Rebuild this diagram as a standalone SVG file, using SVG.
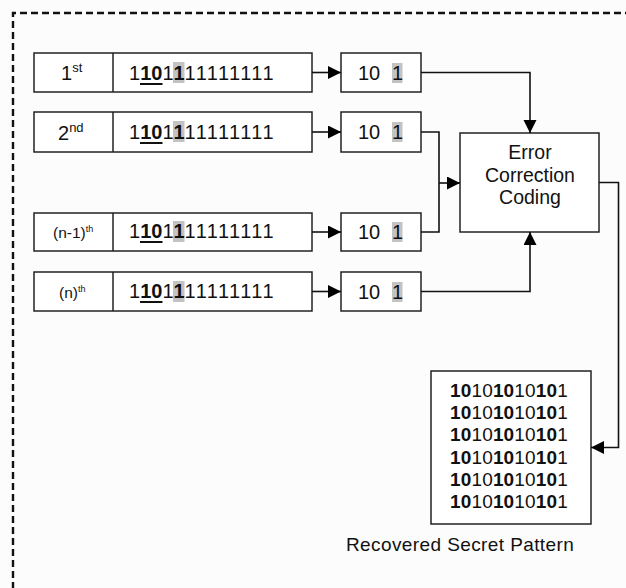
<svg xmlns="http://www.w3.org/2000/svg" width="626" height="588" viewBox="0 0 626 588">
  <style>
    .box { fill: #ffffff; stroke: #222; stroke-width: 1.5; }
    .wire { fill: none; stroke: #111; stroke-width: 1.6; }
    .t { font-family: "Liberation Sans", Arial, sans-serif; fill: #111; }
    .bits { font-size: 20px; }
    .tail { letter-spacing: 1.5px; }
    .hl { fill: #c3c3c3; }
    .pat { font-size: 19px; letter-spacing: 0.15px; }
  </style>
  <defs>
    <marker id="arrow" markerUnits="userSpaceOnUse" markerWidth="14" markerHeight="14" refX="13" refY="6.5" orient="auto">
      <path d="M0,0 L13,6.5 L0,13 z" fill="#000"/>
    </marker>
  </defs>

  <rect width="626" height="588" fill="#fcfcfc"/>
  <!-- dashed frame running off the right and bottom edges -->
  <path d="M13,600 L13,13 L640,13" fill="none" stroke="#111" stroke-width="2.4" stroke-dasharray="7,4"/>

  <!-- share rows -->
  <g id="row1">
    <rect class="box" x="34" y="53" width="278" height="39"/>
    <line x1="113" y1="53" x2="113" y2="92" stroke="#222" stroke-width="1.5"/>
    <text class="t" x="61" y="80" font-size="20">1<tspan font-size="13" dy="-8">st</tspan></text>
    <rect class="hl" x="173" y="62" width="11.5" height="21"/>
    <line x1="140" y1="84" x2="162.5" y2="84" stroke="#111" stroke-width="2"/>
    <text class="t bits" x="129" y="80">1<tspan font-weight="bold">10</tspan>1<tspan font-weight="bold">1</tspan><tspan class="tail" x="184.5">11111111</tspan></text>
  </g>
  <g id="row2">
    <rect class="box" x="34" y="112" width="278" height="40"/>
    <line x1="113" y1="112" x2="113" y2="152" stroke="#222" stroke-width="1.5"/>
    <text class="t" x="58" y="140" font-size="20">2<tspan font-size="13" dy="-8">nd</tspan></text>
    <rect class="hl" x="173" y="121" width="11.5" height="21"/>
    <line x1="140" y1="143" x2="162.5" y2="143" stroke="#111" stroke-width="2"/>
    <text class="t bits" x="129" y="139">1<tspan font-weight="bold">10</tspan>1<tspan font-weight="bold">1</tspan><tspan class="tail" x="184.5">11111111</tspan></text>
  </g>
  <g id="row3">
    <rect class="box" x="34" y="213" width="278" height="38"/>
    <line x1="113" y1="213" x2="113" y2="251" stroke="#222" stroke-width="1.5"/>
    <text class="t" x="53" y="238" font-size="15.5">(n-1)<tspan font-size="9" dy="-6">th</tspan></text>
    <rect class="hl" x="173" y="221" width="11.5" height="21"/>
    <line x1="140" y1="242" x2="162.5" y2="242" stroke="#111" stroke-width="2"/>
    <text class="t bits" x="129" y="238">1<tspan font-weight="bold">10</tspan>1<tspan font-weight="bold">1</tspan><tspan class="tail" x="184.5">11111111</tspan></text>
  </g>
  <g id="row4">
    <rect class="box" x="34" y="272" width="278" height="39"/>
    <line x1="113" y1="272" x2="113" y2="311" stroke="#222" stroke-width="1.5"/>
    <text class="t" x="59" y="298" font-size="15.5">(n)<tspan font-size="9" dy="-6">th</tspan></text>
    <rect class="hl" x="173" y="281" width="11.5" height="21"/>
    <line x1="140" y1="302" x2="162.5" y2="302" stroke="#111" stroke-width="2"/>
    <text class="t bits" x="129" y="298">1<tspan font-weight="bold">10</tspan>1<tspan font-weight="bold">1</tspan><tspan class="tail" x="184.5">11111111</tspan></text>
  </g>

  <!-- extracted bit boxes -->
  <g id="bits1">
    <rect class="box" x="341" y="53" width="80" height="39"/>
    <rect class="hl" x="392" y="63" width="10.5" height="20"/>
    <text class="t bits" x="358" y="80">10<tspan x="392">1</tspan></text>
  </g>
  <g id="bits2">
    <rect class="box" x="341" y="112" width="80" height="40"/>
    <rect class="hl" x="392" y="122" width="10.5" height="20"/>
    <text class="t bits" x="358" y="139">10<tspan x="392">1</tspan></text>
  </g>
  <g id="bits3">
    <rect class="box" x="341" y="213" width="80" height="38"/>
    <rect class="hl" x="392" y="222" width="10.5" height="20"/>
    <text class="t bits" x="358" y="239">10<tspan x="392">1</tspan></text>
  </g>
  <g id="bits4">
    <rect class="box" x="341" y="272" width="80" height="39"/>
    <rect class="hl" x="392" y="282" width="10.5" height="20"/>
    <text class="t bits" x="358" y="299">10<tspan x="392">1</tspan></text>
  </g>

  <!-- decoder -->
  <g id="ecc">
    <rect class="box" x="460" y="133" width="139" height="99"/>
    <text class="t" x="530" y="159" font-size="19.5" text-anchor="middle">Error</text>
    <text class="t" x="530" y="182" font-size="19.5" text-anchor="middle">Correction</text>
    <text class="t" x="530" y="204" font-size="19.5" text-anchor="middle">Coding</text>
  </g>

  <!-- recovered pattern -->
  <g id="recovered">
    <rect class="box" x="431" y="371" width="160" height="153"/>
    <g class="t pat">
      <text x="450" y="397"><tspan font-weight="bold">10</tspan>10<tspan font-weight="bold">10</tspan>10<tspan font-weight="bold">10</tspan>1</text>
      <text x="450" y="419"><tspan font-weight="bold">10</tspan>10<tspan font-weight="bold">10</tspan>10<tspan font-weight="bold">10</tspan>1</text>
      <text x="450" y="441"><tspan font-weight="bold">10</tspan>10<tspan font-weight="bold">10</tspan>10<tspan font-weight="bold">10</tspan>1</text>
      <text x="450" y="464"><tspan font-weight="bold">10</tspan>10<tspan font-weight="bold">10</tspan>10<tspan font-weight="bold">10</tspan>1</text>
      <text x="450" y="486"><tspan font-weight="bold">10</tspan>10<tspan font-weight="bold">10</tspan>10<tspan font-weight="bold">10</tspan>1</text>
      <text x="450" y="508"><tspan font-weight="bold">10</tspan>10<tspan font-weight="bold">10</tspan>10<tspan font-weight="bold">10</tspan>1</text>
    </g>
    <text class="t" x="346" y="551" font-size="19" letter-spacing="0.4">Recovered Secret Pattern</text>
  </g>

  <!-- connectors -->
  <g id="connectors">
    <line class="wire" x1="312" y1="72.5" x2="341" y2="72.5" marker-end="url(#arrow)"/>
    <line class="wire" x1="312" y1="132" x2="341" y2="132" marker-end="url(#arrow)"/>
    <line class="wire" x1="312" y1="232" x2="341" y2="232" marker-end="url(#arrow)"/>
    <line class="wire" x1="312" y1="291.5" x2="341" y2="291.5" marker-end="url(#arrow)"/>
    <polyline class="wire" points="421,72.5 530,72.5 530,133" marker-end="url(#arrow)"/>
    <polyline class="wire" points="421,132 439,132 439,232 421,232"/>
    <line class="wire" x1="439" y1="183" x2="460" y2="183" marker-end="url(#arrow)"/>
    <polyline class="wire" points="421,291.5 530,291.5 530,232" marker-end="url(#arrow)"/>
    <polyline class="wire" points="599,182.5 618.5,182.5 618.5,447.5 591,447.5" marker-end="url(#arrow)"/>
  </g>
</svg>
